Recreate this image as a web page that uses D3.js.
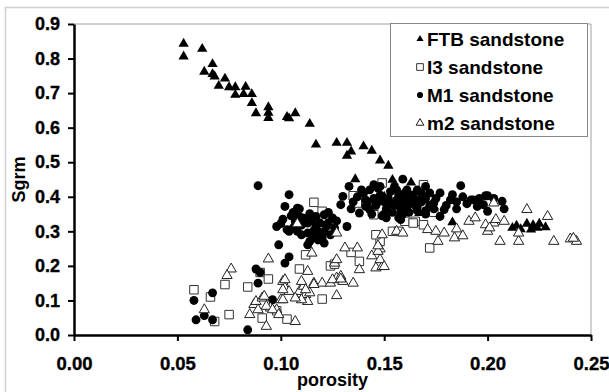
<!DOCTYPE html>
<html>
<head>
<meta charset="utf-8">
<script src="https://cdn.jsdelivr.net/npm/d3@7"></script>
<style>
  body { margin: 0; background: #fff; }
  svg text { font-family: "Liberation Sans", Arial, sans-serif !important; font-weight: bold !important; fill: #000 !important; }
  .tick text { stroke: #000; stroke-width: 0.35px; }
</style>
</head>
<body>
<div id="chart"></div>
<script>
"use strict";

// series data [porosity, Sgrm]
const ftb = [
  [0.053,0.843],[0.053,0.806],[0.062,0.828],[0.067,0.784],[0.063,0.762],[0.067,0.755],[0.068,0.748],
  [0.073,0.742],[0.070,0.721],[0.075,0.717],[0.078,0.717],[0.083,0.718],[0.078,0.695],[0.082,0.697],
  [0.086,0.697],[0.086,0.671],[0.088,0.642],[0.094,0.659],[0.094,0.643],[0.094,0.628],[0.103,0.631],
  [0.107,0.642],[0.104,0.627],[0.114,0.611],[0.117,0.551],[0.127,0.556],[0.132,0.556],[0.134,0.531],
  [0.132,0.519],[0.140,0.546],[0.144,0.533],[0.148,0.505],[0.152,0.490],[0.136,0.451],[0.154,0.449],
  [0.163,0.441],[0.150,0.400],[0.158,0.385],[0.145,0.372],[0.167,0.353],[0.183,0.326],[0.214,0.316],
  [0.216,0.306],[0.219,0.322],[0.221,0.305],[0.222,0.318],[0.224,0.310],[0.225,0.322],[0.228,0.312],
  [0.212,0.310]
];

const i3 = [
  [0.058,0.131],[0.066,0.110],[0.068,0.039],[0.073,0.146],[0.075,0.059],[0.084,0.139],[0.090,0.181],
  [0.094,0.162],[0.091,0.049],[0.098,0.070],[0.103,0.046],[0.109,0.191],[0.112,0.232],[0.110,0.122],
  [0.124,0.200],[0.120,0.104],[0.134,0.239],[0.138,0.213],[0.148,0.271],[0.146,0.290],[0.154,0.300],
  [0.116,0.384],[0.120,0.358],[0.135,0.403],[0.149,0.440],[0.145,0.348],[0.165,0.329],[0.169,0.435],
  [0.174,0.355],[0.169,0.319],[0.172,0.252],[0.160,0.329],[0.164,0.324],[0.126,0.205],[0.157,0.300],
  [0.137,0.382],[0.152,0.360]
];

const m1 = [
  [0.058,0.100],[0.059,0.044],[0.063,0.056],[0.067,0.044],[0.067,0.122],[0.084,0.015],[0.088,0.191],
  [0.089,0.150],[0.090,0.181],[0.096,0.102],[0.089,0.432],[0.104,0.406],[0.102,0.372],[0.109,0.365],
  [0.109,0.343],[0.114,0.351],[0.117,0.343],[0.121,0.348],[0.125,0.339],[0.100,0.322],[0.098,0.314],
  [0.103,0.305],[0.106,0.310],[0.113,0.324],[0.117,0.314],[0.119,0.324],[0.122,0.314],[0.126,0.310],
  [0.115,0.290],[0.117,0.285],[0.120,0.281],[0.114,0.271],[0.121,0.266],[0.132,0.314],[0.099,0.261],
  [0.104,0.300],[0.113,0.334],[0.113,0.295],[0.113,0.261],[0.104,0.226],[0.102,0.208],[0.108,0.367],
  [0.133,0.430],[0.129,0.377],[0.130,0.401],[0.139,0.420],[0.145,0.435],[0.148,0.430],[0.159,0.451],
  [0.141,0.391],[0.143,0.363],[0.151,0.339],[0.157,0.339],[0.138,0.353],[0.170,0.430],[0.187,0.432],
  [0.177,0.411],[0.183,0.406],[0.192,0.391],[0.199,0.403],[0.200,0.403],[0.198,0.377],[0.207,0.387],
  [0.208,0.365],[0.200,0.358],[0.177,0.343],[0.179,0.363],[0.174,0.382],[0.167,0.391],[0.163,0.401],
  [0.160,0.411],[0.166,0.372],[0.172,0.411],[0.182,0.391],[0.193,0.391],[0.195,0.372],[0.158,0.353],
  [0.158,0.334],[0.137,0.400],[0.140,0.410],[0.142,0.385],[0.145,0.395],[0.146,0.375],[0.148,0.405],
  [0.150,0.385],[0.151,0.365],[0.152,0.395],[0.153,0.415],[0.155,0.375],[0.156,0.390],[0.157,0.405],
  [0.158,0.365],[0.159,0.385],[0.160,0.395],[0.161,0.370],[0.162,0.380],[0.163,0.390],[0.164,0.405],
  [0.165,0.375],[0.166,0.360],[0.168,0.385],[0.170,0.395],[0.172,0.375],[0.174,0.365],[0.144,0.350],
  [0.149,0.345],[0.154,0.355],[0.159,0.350],[0.143,0.420],[0.147,0.425],[0.155,0.430],[0.161,0.420],
  [0.101,0.335],[0.105,0.345],[0.107,0.328],[0.110,0.318],[0.111,0.338],[0.115,0.330],[0.118,0.300],
  [0.116,0.302],[0.119,0.296],[0.121,0.298],[0.123,0.325],[0.124,0.290],[0.118,0.275],[0.110,0.290],
  [0.108,0.300],[0.106,0.355],[0.123,0.355],[0.127,0.330],[0.175,0.395],[0.180,0.375],[0.185,0.385],
  [0.188,0.400],[0.190,0.380],[0.196,0.395],[0.203,0.395],[0.185,0.365],[0.170,0.360],[0.168,0.410],
  [0.153,0.380],[0.147,0.385],[0.141,0.372],[0.135,0.385],[0.134,0.365],[0.150,0.350],[0.162,0.355],
  [0.156,0.420],[0.166,0.420],[0.170,0.350]
];

const m2 = [
  [0.076,0.191],[0.074,0.172],[0.063,0.073],[0.094,0.220],[0.085,0.059],[0.087,0.088],[0.088,0.097],
  [0.091,0.107],[0.089,0.073],[0.093,0.025],[0.095,0.078],[0.098,0.073],[0.100,0.102],[0.101,0.155],
  [0.102,0.136],[0.104,0.126],[0.107,0.039],[0.109,0.126],[0.111,0.141],[0.112,0.117],[0.113,0.184],
  [0.113,0.097],[0.115,0.237],[0.116,0.150],[0.120,0.150],[0.124,0.150],[0.127,0.165],[0.129,0.170],
  [0.130,0.155],[0.135,0.150],[0.127,0.114],[0.126,0.208],[0.131,0.252],[0.138,0.189],[0.137,0.252],
  [0.144,0.229],[0.148,0.249],[0.146,0.194],[0.149,0.198],[0.127,0.218],[0.148,0.218],[0.147,0.242],
  [0.150,0.198],[0.092,0.112],[0.093,0.083],[0.096,0.073],[0.099,0.059],[0.102,0.160],[0.110,0.155],
  [0.116,0.146],[0.125,0.160],[0.129,0.162],[0.110,0.102],[0.114,0.122],[0.112,0.131],[0.107,0.107],
  [0.101,0.131],[0.101,0.102],[0.147,0.258],[0.149,0.290],[0.156,0.300],[0.159,0.295],[0.171,0.305],
  [0.175,0.300],[0.179,0.295],[0.176,0.271],[0.184,0.281],[0.188,0.287],[0.185,0.307],[0.191,0.329],
  [0.194,0.339],[0.199,0.319],[0.200,0.300],[0.203,0.324],[0.203,0.382],[0.204,0.334],[0.208,0.329],
  [0.206,0.271],[0.215,0.271],[0.215,0.295],[0.219,0.363],[0.229,0.343],[0.232,0.271],[0.240,0.278],
  [0.243,0.271],[0.2415,0.280],[0.201,0.310],[0.127,0.295],[0.108,0.322]
];

const seriesNames = ["FTB sandstone", "I3 sandstone", "M1 sandstone", "m2 sandstone"];
const xTicks = [0, 0.05, 0.10, 0.15, 0.20, 0.25];
const yTicks = [0, 0.1, 0.2, 0.3, 0.4, 0.5, 0.6, 0.7, 0.8, 0.9];

const W = 609, H = 392;
const svg = d3.select("#chart").append("svg").attr("width", W).attr("height", H);

// outer light frame
svg.append("rect").attr("x", 5.5).attr("y", 7.5).attr("width", 620).attr("height", 400)
  .attr("fill", "none").attr("stroke", "#d0d0d0").attr("stroke-width", 1.5);

const x = d3.scaleLinear().domain([0, 0.25]).range([74, 591]);
const y = d3.scaleLinear().domain([0, 0.9]).range([335, 24]);

// top / right plot border
svg.append("path")
  .attr("d", `M${x(0)},${y(0.9)}H${x(0.25)}V${y(0)}`)
  .attr("fill", "none").attr("stroke", "#a0a0a0").attr("stroke-width", 1);

const styles = [
  { type: d3.symbolTriangle, size: 46, fill: "#000", stroke: "none" },
  { type: d3.symbolSquare, size: 72, fill: "#fff", stroke: "#333" },
  { type: d3.symbolCircle, size: 62, fill: "#000", stroke: "none" },
  { type: d3.symbolTriangle, size: 46, fill: "#fff", stroke: "#222" }
];
const allSeries = [ftb, i3, m1, m2];

allSeries.forEach((data, i) => {
  const s = styles[i];
  svg.append("g").selectAll("path").data(data).enter().append("path")
    .attr("transform", d => `translate(${x(d[0])},${y(d[1])})`)
    .attr("d", d3.symbol().type(s.type).size(s.size))
    .attr("fill", s.fill).attr("stroke", s.stroke).attr("stroke-width", 1);
});

// axes
const yAxis = svg.append("g").attr("transform", `translate(${x(0)},0)`)
  .call(d3.axisLeft(y).tickValues(yTicks).tickFormat(d3.format(".1f")).tickSize(6).tickSizeOuter(0).tickPadding(8));
const xAxis = svg.append("g").attr("transform", `translate(0,${y(0)})`)
  .call(d3.axisBottom(x).tickValues(xTicks).tickFormat(d3.format(".2f")).tickSize(6).tickSizeOuter(0).tickPadding(16));
[xAxis, yAxis].forEach(a => {
  a.select(".domain").attr("stroke", "#000").attr("stroke-width", 2.5);
  a.selectAll(".tick line").attr("stroke", "#000").attr("stroke-width", 2);
});
yAxis.selectAll("text").style("font-size", "18px");
xAxis.selectAll("text").style("font-size", "18.5px");

// axis titles
svg.append("text").attr("x", (x(0) + x(0.25)) / 2).attr("y", 386)
  .attr("text-anchor", "middle").style("font-size", "18px").text("porosity");
svg.append("text").attr("transform", `translate(25,${(y(0) + y(0.9)) / 2}) rotate(-90)`)
  .attr("text-anchor", "middle").style("font-size", "18px").text("Sgrm");

// legend
const legend = svg.append("g");
legend.append("rect").attr("x", 390.5).attr("y", 23.5).attr("width", 197).attr("height", 113)
  .attr("fill", "#fff").attr("stroke", "#888").attr("stroke-width", 1);
const legendSizes = [22, 45, 30, 26];
seriesNames.forEach((name, i) => {
  const cy = 39 + i * 28;
  const s = styles[i];
  legend.append("path").attr("transform", `translate(420,${cy})`)
    .attr("d", d3.symbol().type(s.type).size(legendSizes[i]))
    .attr("fill", s.fill).attr("stroke", s.stroke).attr("stroke-width", 1);
  legend.append("text").attr("x", 427).attr("y", cy + 6.5).style("font-size", "19px").text(name);
});
</script>
</body>
</html>
